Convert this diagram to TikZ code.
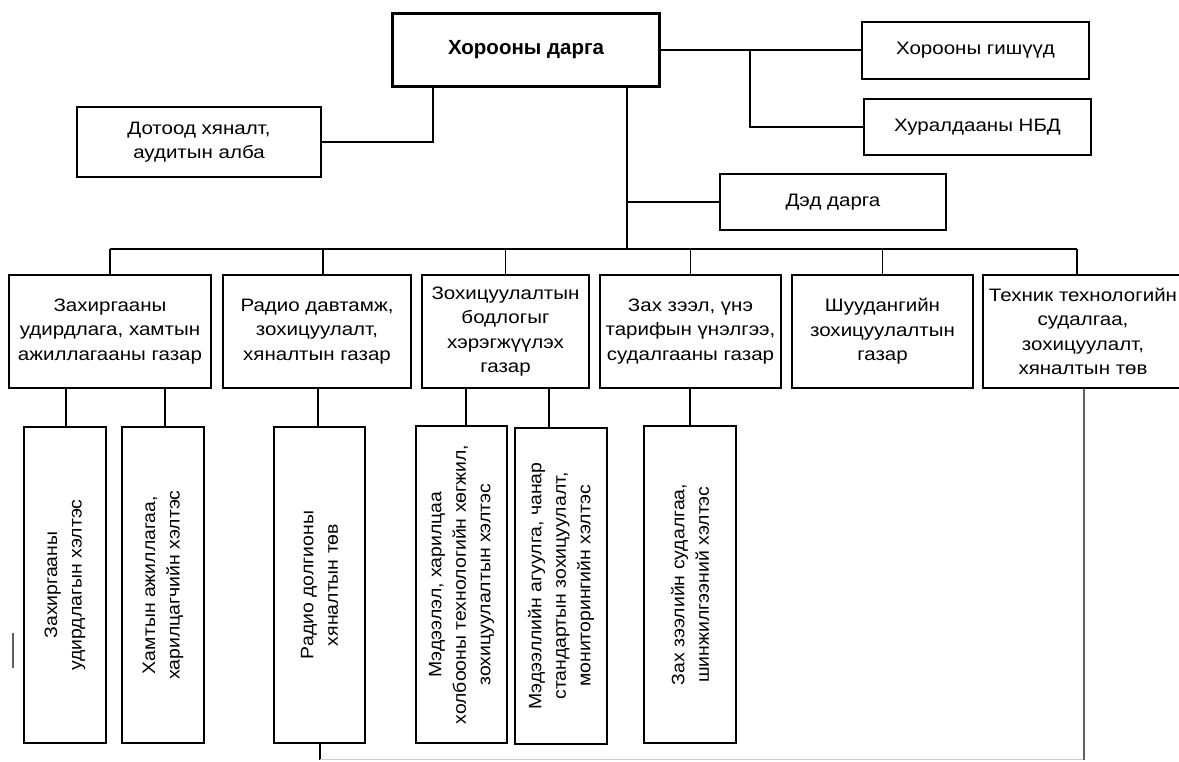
\documentclass[tikz,border=0pt]{standalone}
\usepackage{fontspec}
\setmainfont{Liberation Sans}[FakeStretch=1.14]
\newfontfamily\vfont{Liberation Sans}[FakeStretch=1.08]
\newfontfamily\titlefont{Liberation Sans}
\begin{document}
\begin{tikzpicture}[x=1pt,y=-1pt,
  box/.style={draw, line width=1.4pt, inner sep=0pt, align=center, font=\fontsize{18}{24.5}\selectfont},
  chairbox/.style={draw, line width=3.2pt, inner sep=0pt, align=center, font=\titlefont\bfseries\fontsize{20.5}{24}\selectfont},
  vtext/.style={rotate=90, inner sep=0pt, align=center, font=\vfont\fontsize{18}{24.5}\selectfont},
  link/.style={line width=1.5pt},
  faint/.style={line width=1pt, gray!40},
  greyline/.style={line width=1.4pt, gray!75!black}]
\useasboundingbox (0,0) rectangle (1179,761);
% top level
\node[chairbox, minimum width=267, minimum height=73] (chair) at (526,50) {Хорооны дарга};
\node[box, minimum width=227, minimum height=57] (members) at (975.5,50.5) {Хорооны гишүүд};
\node[box, minimum width=227, minimum height=56] (nbd) at (977.5,127) {Хуралдааны НБД};
\node[box, minimum width=226, minimum height=56] (deputy) at (833,202) {Дэд дарга};
\node[box, minimum width=244, minimum height=70] (audit) at (199,142) {Дотоод хяналт,\\аудитын алба};
% departments
\node[box, minimum width=202, minimum height=113] (b1) at (110,331.5) {Захиргааны\\удирдлага, хамтын\\ажиллагааны газар};
\node[box, minimum width=188, minimum height=113] (b2) at (317,331.5) {Радио давтамж,\\зохицуулалт,\\хяналтын газар};
\node[box, minimum width=167, minimum height=113] (b3) at (505.5,331.5) {Зохицуулалтын\\бодлогыг\\хэрэгжүүлэх\\газар};
\node[box, minimum width=181, minimum height=113] (b4) at (690.5,331.5) {Зах зээл, үнэ\\тарифын үнэлгээ,\\судалгааны газар};
\node[box, minimum width=181, minimum height=113] (b5) at (882.5,331.5) {Шуудангийн\\зохицуулалтын\\газар};
\node[box, minimum width=200, minimum height=113] (b6) at (1083,331.5) {Техник технологийн\\судалгаа,\\зохицуулалт,\\хяналтын төв};
% sub units
\node[box, minimum width=82, minimum height=316] (s1a) at (65,585) {};
\node[vtext] (t1a) at (s1a.center) {Захиргааны\\удирдлагын хэлтэс};
\node[box, minimum width=82, minimum height=316] (s1b) at (163,585) {};
\node[vtext] (t1b) at (s1b.center) {Хамтын ажиллагаа,\\харилцагчийн хэлтэс};
\node[box, minimum width=91, minimum height=316] (s2) at (319.5,585) {};
\node[vtext] (t2) at (s2.center) {Радио долгионы\\хяналтын төв};
\node[box, minimum width=91, minimum height=317] (s3a) at (461.5,584.5) {};
\node[vtext] (t3a) at (s3a.center) {Мэдээлэл, харилцаа\\холбооны технологийн хөгжил,\\зохицуулалтын хэлтэс};
\node[box, minimum width=92, minimum height=316] (s3b) at (561,586) {};
\node[vtext] (t3b) at (s3b.center) {Мэдээллийн агуулга, чанар\\стандартын зохицуулалт,\\мониторингийн хэлтэс};
\node[box, minimum width=92, minimum height=317] (s4) at (690,584.5) {};
\node[vtext] (t4) at (s4.center) {Зах зээлийн судалгаа,\\шинжилгээний хэлтэс};
% coordinates
\coordinate (split) at (750,50);
\coordinate (spine) at ([xshift=101pt]chair.south);
\coordinate (bus) at (0,249);
\coordinate (bot) at (0,759.5);
\coordinate (s2out) at ([xshift=0.5pt]s2.south);
% connectors top
\draw[link] (chair.east) -- (chair.east -| members.west);
\draw[link] (split) |- (nbd.west);
\draw[link] ([xshift=-93pt]chair.south) |- (audit.east);
\draw[link] (spine) -- (spine |- bus);
\draw[link] (deputy.west -| spine) -- (deputy.west);
\draw[link] (b1.north |- bus) -- ([xshift=-6pt]b6.north |- bus);
\foreach \n in {b1,b3,b4,b5} \draw[link] (\n.north) -- (\n.north |- bus);
\draw[link] ([xshift=6pt]b2.north) -- ([xshift=6pt]b2.north |- bus);
\draw[link] ([xshift=-6pt]b6.north) -- ([xshift=-6pt]b6.north |- bus);
% connectors to sub units
\draw[link] ([xshift=1pt]s1a.north) -- ([xshift=1pt]s1a.north |- b1.south);
\draw[link] ([xshift=2pt]s1b.north) -- ([xshift=2pt]s1b.north |- b1.south);
\draw[link] ([xshift=-1.5pt]s2.north) -- ([xshift=-1.5pt]s2.north |- b2.south);
\draw[link] ([xshift=4.5pt]s3a.north) -- ([xshift=4.5pt]s3a.north |- b3.south);
\draw[link] ([xshift=-12pt]s3b.north) -- ([xshift=-12pt]s3b.north |- b3.south);
\draw[link] (s4.north) -- (s4.north |- b4.south);
% bottom loop
\draw[link] (s2out) -- (s2out |- bot);
\draw[faint] (s2out |- bot) -- ([xshift=1pt]b6.south |- bot);
\draw[greyline] ([xshift=1pt]b6.south) -- ([xshift=1pt]b6.south |- bot);
% stray mark
\draw[greyline] (13,633) -- (13,668);
\end{tikzpicture}
\end{document}
